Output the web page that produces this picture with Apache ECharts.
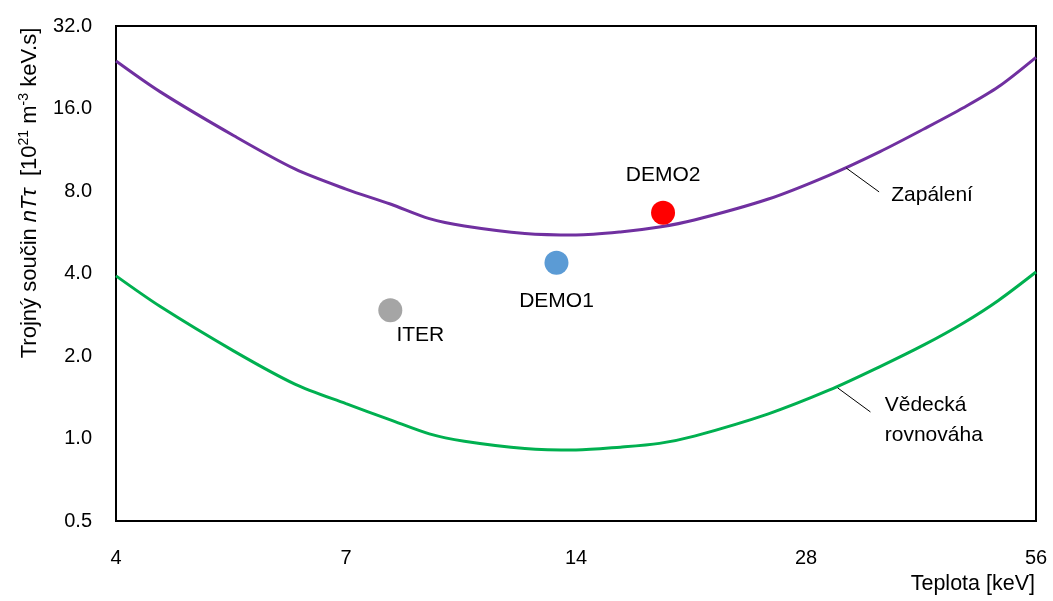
<!DOCTYPE html>
<html><head><meta charset="utf-8">
<script src="https://cdn.jsdelivr.net/npm/echarts@6/dist/echarts.min.js"></script>
<style>html,body{margin:0;padding:0;background:#fff}#c{width:1053px;height:601px}</style>
</head><body><div id="c"></div>
<script>
// Temperature [keV] sample points along the two criteria curves
const temps = [3.5, 4, 5, 6, 7, 8, 9, 10, 12, 14, 16, 18, 20, 25, 30, 35, 40, 45, 50, 56];
// Ignition curve (Zapálení)  [10^21 m^-3 keV.s]
const ignition = [23.85, 18.4, 12.7, 9.63, 8.13, 7.17, 6.34, 5.96, 5.60, 5.53, 5.67, 5.91, 6.27, 7.48, 9.13, 11.14, 13.5, 16.1, 19.2, 24.6];
// Scientific breakeven curve (Vědecká rovnováha)
const breakeven = [3.92, 3.03, 2.08, 1.58, 1.34, 1.17, 1.04, 0.978, 0.92, 0.908, 0.93, 0.96, 1.02, 1.23, 1.50, 1.83, 2.20, 2.64, 3.19, 4.05];
// Devices
const devices = ['ITER', 'DEMO1', 'DEMO2'];
const deviceTemps = [8.0, 13.2, 18.2];
const deviceValues = [2.94, 4.38, 6.67];
// Axis ticks (x axis is log2 starting at 3.5, labels rounded)
const xTickValues = [3.5, 7, 14, 28, 56];
const yTickValues = [0.5, 1, 2, 4, 8, 16, 32];
// Curve annotations (data coordinates)
const curveNames = ['Zapálení', 'Vědecká\nrovnováha'];
const leaderStart = [[31.6, 9.71], [30.8, 1.53]];
const leaderEnd = [[34.9, 7.94], [34.0, 1.25]];
const labelAnchor = [[36.2, 7.74], [35.5, 1.168]];

const X0 = xTickValues[0];
const fx = t => Math.log2(t / X0);
const fy = v => Math.log2(v);
const FONT = '"Liberation Sans", Arial, sans-serif';

const deviceColors = ['#A5A5A5', '#5B9BD5', '#FF0000'];
const deviceLabelCfg = [
  {position: 'bottom', distance: 3, offset: [30, 0]},
  {position: 'bottom', distance: 16, offset: [0, 0]},
  {position: 'top', distance: 15, offset: [0, 0]}
];

const chart = echarts.init(document.getElementById('c'), null, {renderer: 'canvas'});
const option = {
  animation: false,
  textStyle: {fontFamily: FONT},
  grid: {left: 116, right: 17, top: 26, bottom: 80, show: true, borderColor: '#000', borderWidth: 2, backgroundColor: 'transparent'},
  xAxis: {
    type: 'value', min: 0, max: fx(xTickValues[xTickValues.length - 1]), interval: 1,
    axisLine: {show: true, onZero: false, lineStyle: {color: '#000', width: 2}},
    axisTick: {show: false}, splitLine: {show: false},
    axisLabel: {color: '#000', fontSize: 20, fontFamily: FONT, margin: 27,
      formatter: v => String(Math.round(X0 * Math.pow(2, v)))}
  },
  yAxis: {
    type: 'value', min: fy(yTickValues[0]), max: fy(yTickValues[yTickValues.length - 1]), interval: 1,
    axisLine: {show: true, onZero: false, lineStyle: {color: '#000', width: 2}},
    axisTick: {show: false}, splitLine: {show: false},
    axisLabel: {color: '#000', fontSize: 20, fontFamily: FONT, margin: 24,
      formatter: v => Math.pow(2, v).toFixed(1)}
  },
  series: [
    {type: 'line', name: 'Zapálení', data: temps.map((t, i) => [fx(t), fy(ignition[i])]),
      showSymbol: false, symbol: 'none', smooth: 0.3, lineStyle: {color: '#7030A0', width: 3}, z: 3},
    {type: 'line', name: 'Vědecká rovnováha', data: temps.map((t, i) => [fx(t), fy(breakeven[i])]),
      showSymbol: false, symbol: 'none', smooth: 0.3, lineStyle: {color: '#00B050', width: 3}, z: 3},
    {type: 'scatter', symbolSize: 24, z: 4,
      data: devices.map((d, i) => ({
        name: d, value: [fx(deviceTemps[i]), fy(deviceValues[i])],
        itemStyle: {color: deviceColors[i], opacity: 1},
        label: Object.assign({show: true, formatter: '{b}', color: '#000', fontSize: 21, fontFamily: FONT}, deviceLabelCfg[i])
      }))}
  ]
};
chart.setOption(option);

const px = (p) => chart.convertToPixel({gridIndex: 0}, [fx(p[0]), fy(p[1])]);
const graphics = [];
curveNames.forEach((name, i) => {
  const a = px(leaderStart[i]), b = px(leaderEnd[i]), c = px(labelAnchor[i]);
  graphics.push({type: 'line', shape: {x1: a[0], y1: a[1], x2: b[0], y2: b[1]}, style: {stroke: '#000', lineWidth: 1}, z: 5});
  graphics.push({type: 'text', x: c[0], y: c[1], style: {text: name, fill: '#000', fontSize: 21, fontFamily: FONT, align: 'left', verticalAlign: 'middle', lineHeight: 30}, z: 5});
});
// axis titles
graphics.push({type: 'text', x: 1035, y: 584, style: {text: 'Teplota [keV]', fill: '#000', fontSize: 21.5, fontFamily: FONT, align: 'right', verticalAlign: 'middle'}});
graphics.push({type: 'text', x: 30, y: 193, rotation: Math.PI / 2,
  style: {text: 'Trojný součin {i|nTτ}  [10{s|21} m{s|-3} keV.s]', fill: '#000', fontSize: 22, fontFamily: FONT,
    align: 'center', verticalAlign: 'middle', lineHeight: 26,
    rich: {i: {fontStyle: 'italic', fontSize: 22, fontFamily: FONT, fill: '#000', lineHeight: 26},
           s: {fontSize: 14, fontFamily: FONT, fill: '#000', verticalAlign: 'top', lineHeight: 16}}}});
chart.setOption({graphic: graphics});
</script>
</body></html>
